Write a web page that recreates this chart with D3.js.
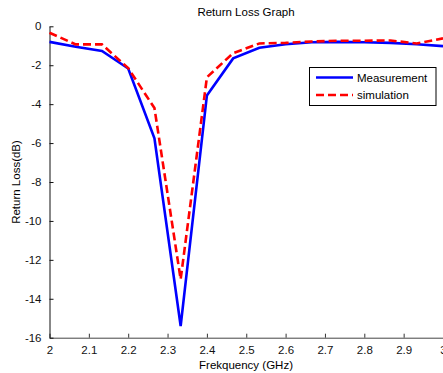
<!DOCTYPE html>
<html><head><meta charset="utf-8">
<script src="https://cdn.jsdelivr.net/npm/d3@7"></script>
<style>body{margin:0;background:#fff;}svg{display:block;}text{font-family:"Liberation Sans",Arial,sans-serif;}</style>
</head><body>
<svg id="c" width="443" height="373"></svg>
<script>
const freq = [2.0, 2.0667, 2.1333, 2.2, 2.2667, 2.3333, 2.4, 2.4667, 2.5333, 2.6, 2.6667, 2.7333, 2.8, 2.8667, 2.9333, 3.0];
const measurement = [-0.8, -1.05, -1.27, -2.17, -5.75, -15.4, -3.55, -1.65, -1.1, -0.92, -0.82, -0.8, -0.82, -0.85, -0.92, -1.02];
const simulation = [-0.33, -0.93, -0.93, -2.15, -4.2, -13.0, -2.62, -1.38, -0.88, -0.85, -0.78, -0.74, -0.74, -0.73, -0.88, -0.62];
const xTicks = [2, 2.1, 2.2, 2.3, 2.4, 2.5, 2.6, 2.7, 2.8, 2.9, 3];
const yTicks = [0, -2, -4, -6, -8, -10, -12, -14, -16];
const seriesNames = ["Measurement", "simulation"];

const svg = d3.select("#c");
const x = d3.scaleLinear().domain([2, 3]).range([49.5, 443]);
const y = d3.scaleLinear().domain([-16, 0]).range([337.7, 26.3]);

const fs = "11.5px";
// axes
const xa = svg.append("g").attr("transform", "translate(0,337.7)")
  .call(d3.axisBottom(x).tickValues(xTicks).tickFormat(d3.format("")).tickSizeInner(-4).tickSizeOuter(0).tickPadding(8));
xa.select(".domain").attr("stroke", "#444");
xa.selectAll(".tick line").attr("stroke", "#333");
xa.selectAll("text").style("font-size", fs).attr("fill", "#111");
const ya = svg.append("g").attr("transform", "translate(49.5,0)")
  .call(d3.axisLeft(y).tickValues(yTicks).tickFormat(d => d).tickSizeInner(-4).tickSizeOuter(0).tickPadding(8));
ya.select(".domain").attr("stroke", "#111");
ya.selectAll(".tick line").attr("stroke", "#111");
ya.selectAll("text").style("font-size", fs).attr("fill", "#111");

const line = d3.line().x((d, i) => x(freq[i])).y(d => y(d));
svg.append("path").datum(measurement).attr("d", line).attr("fill", "none")
  .attr("stroke", "#0000ff").attr("stroke-width", 2.6).attr("stroke-linejoin", "miter");
svg.append("path").datum(simulation).attr("d", line).attr("fill", "none")
  .attr("stroke", "#ff0000").attr("stroke-width", 2.6).attr("stroke-dasharray", "8,4");

// title & labels
svg.append("text").attr("x", 246).attr("y", 16).attr("text-anchor", "middle").style("font-size", fs).text("Return Loss Graph");
svg.append("text").attr("x", 246).attr("y", 369).attr("text-anchor", "middle").style("font-size", fs).text("Frekquency (GHz)");
svg.append("text").attr("transform", "translate(20,182) rotate(-90)").attr("text-anchor", "middle").style("font-size", fs).text("Return Loss(dB)");

// legend
const lg = svg.append("g");
lg.append("rect").attr("x", 309.5).attr("y", 67.5).attr("width", 126.5).attr("height", 38).attr("fill", "#fff").attr("stroke", "#000").attr("stroke-width", 1);
const colors = ["#0000ff", "#ff0000"];
seriesNames.forEach((n, i) => {
  const yy = 77.5 + i * 17.5;
  lg.append("line").attr("x1", 316).attr("x2", 353).attr("y1", yy).attr("y2", yy)
    .attr("stroke", colors[i]).attr("stroke-width", 2.6).attr("stroke-dasharray", i ? "8,4" : null);
  lg.append("text").attr("x", 357).attr("y", yy + 4).style("font-size", fs).text(n);
});
</script>
</body></html>
